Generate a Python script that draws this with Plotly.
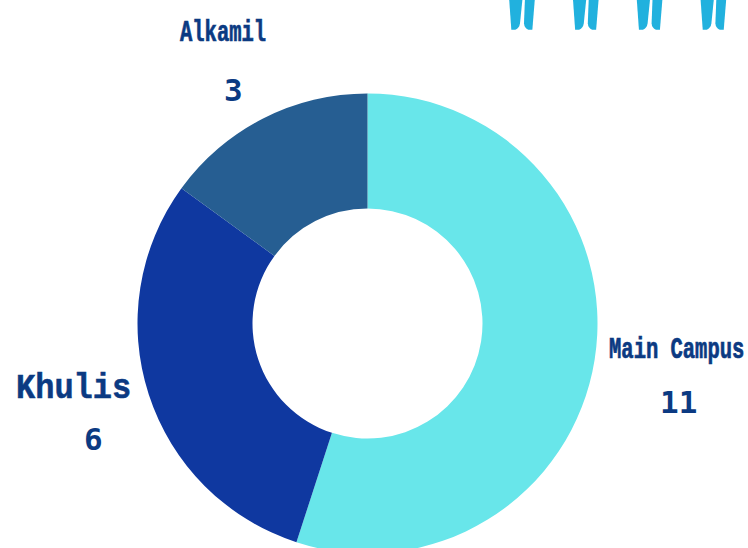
import json
import plotly.graph_objects as go

categories = ["Main Campus", "Khulis", "Alkamil"]
values = [11, 6, 3]
slice_colors = ["#68E6EA", "#0F38A0", "#265E92"]

W, H = 748, 560
TEXT = "#0B3A82"
LEG = "#21B1DE"
cx, cy, r = 367.5, 323.5, 230


def px(x):
    return x / W


def py(y):
    return 1 - y / H


label_pos = {"Main Campus": (676.5, 349, 20.5), "Khulis": (73, 388, 32), "Alkamil": (223, 32, 20.5)}
value_pos = {"Main Campus": (678, 402), "Khulis": (93, 439), "Alkamil": (234, 90)}
label_stretch = {"Main Campus": 1.48, "Khulis": 1.1, "Alkamil": 1.48}

ann = []
for c, v in zip(categories, values):
    lx, ly, ls = label_pos[c]
    ann.append(dict(x=px(lx), y=py(ly), xref="paper", yref="paper", text=f"<b>{c}</b>", showarrow=False,
                    xanchor="center", yanchor="middle",
                    font=dict(family="Liberation Mono", size=ls, color=TEXT)))
    nx, ny = value_pos[c]
    ann.append(dict(x=px(nx), y=py(ny), xref="paper", yref="paper", text=f"<b>{v}</b>", showarrow=False,
                    xanchor="center", yanchor="middle",
                    font=dict(family="DejaVu Sans Mono", size=31, color=TEXT)))


def leg_paths(dx):
    def P(x, y):
        return f"{px(480 + x / 3 + dx):.5f},{py(y / 3):.5f}"
    left = f"M {P(87,-9)} L {P(94,89)} L {P(106,89)} Q {P(118,85)} {P(120,70)} L {P(128,-9)} Z"
    right = f"M {P(135,-9)} L {P(132,70)} Q {P(133,85)} {P(145,89)} L {P(157,89)} L {P(165,-9)} Z"
    return [left, right]


shapes = []
for dx in (0, 63.8, 127.6, 191.4):
    for p in leg_paths(dx):
        shapes.append(dict(type="path", path=p, xref="paper", yref="paper",
                           fillcolor=LEG, line=dict(width=0)))

fig = go.Figure(go.Pie(
    labels=categories, values=values, hole=0.5, sort=False, direction="clockwise", rotation=0,
    marker=dict(colors=slice_colors, line=dict(width=0)),
    textinfo="none", hoverinfo="skip", showlegend=False,
    domain=dict(x=[px(cx - r), px(cx + r)], y=[py(cy + r), py(cy - r)]),
))
fig.update_layout(width=W, height=H, margin=dict(l=0, r=0, t=0, b=0),
                  paper_bgcolor="white", plot_bgcolor="white",
                  annotations=ann, shapes=shapes)

post = """
document.documentElement.style.overflow='hidden';
document.body.style.margin='0';
document.body.style.overflow='hidden';
var stretch = %s;
(function apply(){
  var nodes = document.querySelectorAll('.annotation-text');
  if (!nodes.length) { setTimeout(apply, 30); return; }
  nodes.forEach(function(t){
    var s = stretch[t.textContent];
    if (!s) return;
    var b = t.getBBox();
    var my = b.y + b.height / 2;
    t.setAttribute('transform', 'translate(0,' + my + ') scale(1,' + s + ') translate(0,' + (-my) + ')');
    t.style.stroke = '%s';
    t.style.strokeWidth = '0.5px';
  });
})();
""" % (json.dumps(label_stretch), TEXT)
fig.write_html("out.html", post_script=post, config={"displayModeBar": False})
